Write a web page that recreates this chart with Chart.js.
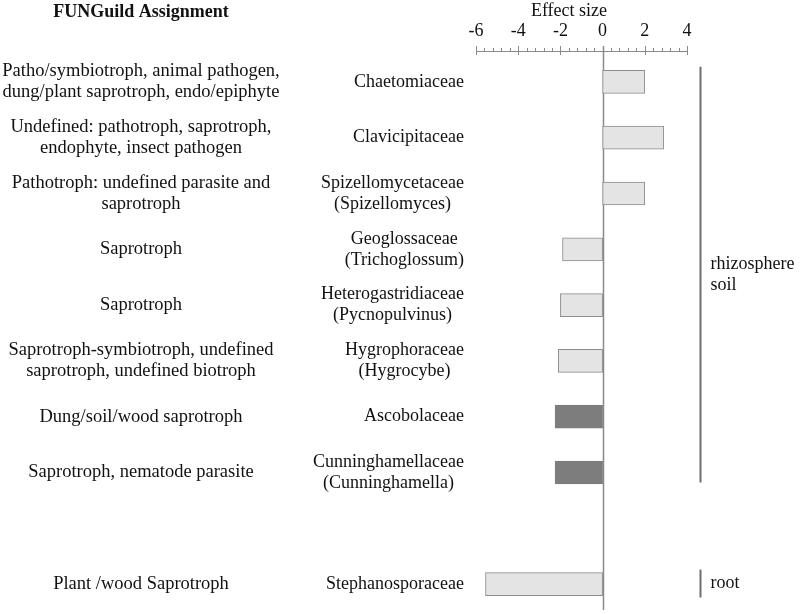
<!DOCTYPE html>
<html>
<head>
<meta charset="utf-8">
<script src="https://cdn.jsdelivr.net/npm/chart.js@4.4.1/dist/chart.umd.min.js"></script>
<style>
	html, body { margin:0; padding:0; background:#fff; }
	#wrap { width:800px; height:614px; position:relative; }
</style>
</head>
<body>
<div id="wrap"><canvas id="chart"></canvas></div>
<script>
(function(){
	// rows top to bottom, one empty row before the root group
	const families = [
		['Chaetomiaceae'],
		['Clavicipitaceae'],
		['Spizellomycetaceae', '(Spizellomyces)'],
		['Geoglossaceae', '(Trichoglossum)'],
		['Heterogastridiaceae', '(Pycnopulvinus)'],
		['Hygrophoraceae', '(Hygrocybe)'],
		['Ascobolaceae'],
		['Cunninghamellaceae', '(Cunninghamella)'],
		[''],
		['Stephanosporaceae']
	];
	const guilds = [
		['Patho/symbiotroph, animal pathogen,', 'dung/plant saprotroph, endo/epiphyte'],
		['Undefined: pathotroph, saprotroph,', 'endophyte, insect pathogen'],
		['Pathotroph: undefined parasite and', 'saprotroph'],
		['Saprotroph'],
		['Saprotroph'],
		['Saprotroph-symbiotroph, undefined', 'saprotroph, undefined biotroph'],
		['Dung/soil/wood saprotroph'],
		['Saprotroph, nematode parasite'],
		[''],
		['Plant /wood Saprotroph']
	];
	const effectSize = [2.0, 2.9, 2.0, -1.9, -2.0, -2.1, -2.25, -2.25, null, -5.55];
	const darkFamilies = ['Ascobolaceae', 'Cunninghamellaceae'];
	const habitats = [
		{ label: ['rhizosphere', 'soil'], from: 0, to: 7 },
		{ label: ['root'], from: 9, to: 9 }
	];
	const xTicks = [-6, -4, -2, 0, 2, 4];

	const serif = '"Liberation Serif", "Times New Roman", serif';
	const txt = '#111';
	const lineH = 21;

	const isDark = (i) => darkFamilies.includes(families[i][0]);

	const drawLines = (ctx, lines, x, y, align) => {
		ctx.textAlign = align;
		const y0 = y - (lines.length - 1) * lineH / 2;
		lines.forEach((l, k) => ctx.fillText(l, x, y0 + k * lineH));
	};

	const decor = {
		id: 'decor',
		beforeDatasetsDraw(chart) {
			const ctx = chart.ctx, xs = chart.scales.x, area = chart.chartArea;
			const rulerY = area.top - 3;
			ctx.save();
			ctx.strokeStyle = '#8a8a8a';
			ctx.lineWidth = 1;
			// ruler line with minor ticks every 0.4
			ctx.beginPath();
			ctx.moveTo(xs.getPixelForValue(xs.min), rulerY + 0.5);
			ctx.lineTo(xs.getPixelForValue(xs.max), rulerY + 0.5);
			for (let k = 0; k <= 25; k++) {
				const v = xs.min + k * 0.4;
				const px = Math.round(xs.getPixelForValue(v)) + 0.5;
				const major = k % 5 === 0;
				ctx.moveTo(px, rulerY - (major ? 5 : 3));
				ctx.lineTo(px, rulerY + (major ? 4 : 0.5));
			}
			ctx.stroke();
			// zero line
			const zx = Math.round(xs.getPixelForValue(0)) + 0.5;
			ctx.lineWidth = 1.5;
			ctx.beginPath();
			ctx.moveTo(zx, rulerY - 5);
			ctx.lineTo(zx, chart.height - 4);
			ctx.stroke();
			ctx.restore();
		},
		afterDraw(chart) {
			const ctx = chart.ctx, ys = chart.scales.y, area = chart.chartArea;
			const step = ys.getPixelForValue(1) - ys.getPixelForValue(0);
			ctx.save();
			ctx.fillStyle = txt;
			ctx.textBaseline = 'middle';
			// family blocks: right edge near 464, lines centred in the block
			ctx.font = '18px ' + serif;
			families.forEach((f, i) => {
				const w = Math.max(...f.map((l) => ctx.measureText(l).width));
				drawLines(ctx, f, 464 - w / 2, ys.getPixelForValue(i), 'center');
			});
			ctx.font = '18.5px ' + serif;
			guilds.forEach((g, i) => drawLines(ctx, g, 141, ys.getPixelForValue(i), 'center'));
			ctx.font = 'bold 18px ' + serif;
			drawLines(ctx, ['FUNGuild Assignment'], 141, 12, 'center');
			ctx.font = '18px ' + serif;
			drawLines(ctx, ['Effect size'], 569, 11, 'center');
			// habitat brackets
			const bx = area.right + 13.5;
			ctx.strokeStyle = '#6e6e6e';
			ctx.lineWidth = 2;
			habitats.forEach((h) => {
				const top = ys.getPixelForValue(h.from) - step * (h.from === h.to ? 0.26 : 0.27);
				const bot = ys.getPixelForValue(h.to) + step * (h.from === h.to ? 0.24 : 0.18);
				ctx.beginPath();
				ctx.moveTo(bx, top);
				ctx.lineTo(bx, bot);
				ctx.stroke();
				drawLines(ctx, h.label, bx + 10, (top + bot) / 2, 'left');
			});
			ctx.restore();
		}
	};

	new Chart(document.getElementById('chart'), {
		type: 'bar',
		data: {
			labels: families.map((f) => f.join(' ')),
			datasets: [{
				data: effectSize,
				backgroundColor: (c) => isDark(c.dataIndex) ? '#7d7d7d' : '#e4e4e4',
				borderColor: (c) => isDark(c.dataIndex) ? '#7d7d7d' : '#8c8c8c',
				borderWidth: 1,
				borderSkipped: false,
				barThickness: 23
			}]
		},
		options: {
			indexAxis: 'y',
			responsive: true,
			maintainAspectRatio: false,
			animation: false,
			layout: { padding: { left: 476, right: 113, top: 0, bottom: 2 } },
			plugins: { legend: { display: false }, tooltip: { enabled: false } },
			scales: {
				x: {
					position: 'top',
					min: -6,
					max: 4,
					afterBuildTicks: (s) => { s.ticks = xTicks.map((v) => ({ value: v })); },
					afterFit: (s) => { s.height = 54; },
					grid: { display: false, drawTicks: false },
					border: { display: false },
					ticks: {
						padding: 12,
						color: txt,
						font: { family: serif, size: 18 },
						callback: (v) => String(v)
					}
				},
				y: {
					display: false,
					offset: true,
					grid: { display: false }
				}
			}
		},
		plugins: [decor]
	});
})();
</script>
</body>
</html>
